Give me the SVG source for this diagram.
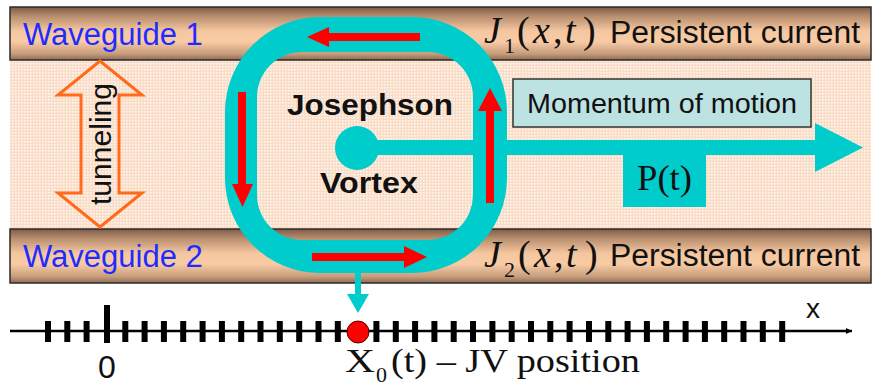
<svg xmlns="http://www.w3.org/2000/svg" width="882" height="386" viewBox="0 0 882 386">
  <defs>
    <linearGradient id="guideFill" x1="0" y1="0" x2="0" y2="1">
      <stop offset="0" stop-color="#7e5c48"/>
      <stop offset="0.18" stop-color="#b98f6f"/>
      <stop offset="0.45" stop-color="#f5c7a0"/>
      <stop offset="0.65" stop-color="#f8cba5"/>
      <stop offset="0.88" stop-color="#c79d7c"/>
      <stop offset="1" stop-color="#8f6c55"/>
    </linearGradient>
    <pattern id="barrierDots" width="3" height="3" patternUnits="userSpaceOnUse">
      <rect width="3" height="3" fill="#f9dcc5"/>
      <rect width="1.6" height="1.6" fill="#fff6ef"/>
    </pattern>
    <marker id="axisHead" viewBox="0 0 10 10" refX="10" refY="5" markerWidth="8" markerHeight="6" markerUnits="userSpaceOnUse" orient="auto">
      <path d="M0,0 L10,5 L0,10 z" fill="#000"/>
    </marker>
  </defs>
  <style>
    .guide { fill: url(#guideFill); stroke: #2b2b2b; stroke-width: 1.5; }
    .sans { font-family: "Liberation Sans", Arial, sans-serif; }
    .serif { font-family: "Liberation Serif", "Times New Roman", serif; }
    .blue { fill: #1f2cff; font-size: 31px; }
    .label { fill: #111; font-size: 31px; }
    .bold { font-weight: bold; fill: #111; font-size: 30px; }
    .math { fill: #111; font-size: 38px; }
    .cyan { fill: #00cccc; }
    .red { fill: #ff0000; }
    .tick { stroke: #000; stroke-width: 6; }
  </style>

  <rect width="882" height="386" fill="#ffffff"/>

  <!-- tunnel barrier between the guides -->
  <g id="barrier">
    <rect x="10" y="60" width="861" height="169" fill="url(#barrierDots)"/>
  </g>

  <!-- waveguides -->
  <g id="waveguide1">
    <rect class="guide" x="10" y="7" width="861" height="53"/>
    <text class="sans blue" x="23" y="45">Waveguide 1</text>
    <text class="serif math" y="43"><tspan x="484" font-style="italic">J</tspan><tspan x="504" y="53" font-size="22">1</tspan><tspan x="517" y="43">(</tspan><tspan x="533" font-style="italic">x</tspan><tspan x="553">,</tspan><tspan x="565" font-style="italic">t</tspan><tspan x="583">)</tspan></text>
    <text class="sans label" x="610" y="43" textLength="250" lengthAdjust="spacingAndGlyphs">Persistent current</text>
  </g>
  <g id="waveguide2">
    <rect class="guide" x="10" y="229" width="861" height="54"/>
    <text class="sans blue" x="23" y="267">Waveguide 2</text>
    <text class="serif math" y="267"><tspan x="484" font-style="italic">J</tspan><tspan x="504" y="277" font-size="22">2</tspan><tspan x="518" y="267">(</tspan><tspan x="534" font-style="italic">x</tspan><tspan x="554">,</tspan><tspan x="566" font-style="italic">t</tspan><tspan x="585">)</tspan></text>
    <text class="sans label" x="610" y="266" textLength="250" lengthAdjust="spacingAndGlyphs">Persistent current</text>
  </g>

  <!-- tunneling double arrow -->
  <g id="tunneling">
    <polygon points="100,61 142,95 119,95 119,193 142,193 100,227 58,193 81,193 81,95 58,95" fill="none" stroke="#ff6a1c" stroke-width="3" stroke-linejoin="miter"/>
    <text class="sans" transform="translate(111,144) rotate(-90)" text-anchor="middle" font-size="30" fill="#111" textLength="122" lengthAdjust="spacingAndGlyphs">tunneling</text>
  </g>

  <!-- momentum arrow with P(t) tab -->
  <g id="momentum">
    <rect class="cyan" x="357" y="140" width="460" height="15"/>
    <polygon class="cyan" points="815,123 863,147.5 815,172"/>
    <rect class="cyan" x="623" y="147" width="83" height="60"/>
    <text class="serif" x="637" y="190" font-size="35" fill="#111" textLength="55" lengthAdjust="spacingAndGlyphs">P(t)</text>
  </g>

  <g id="momentum-label">
    <rect x="513" y="79" width="298" height="48" fill="#bde2e2" stroke="#333" stroke-width="1.5"/>
    <text class="sans" x="527" y="113" font-size="27" fill="#111" textLength="270" lengthAdjust="spacingAndGlyphs">Momentum of motion</text>
  </g>

  <!-- circulating current loop round the vortex core -->
  <g id="vortex">
    <path class="cyan" fill-rule="evenodd" d="M320,17 H412 A95,95 0 0 1 507,112 V178 A95,95 0 0 1 412,273 H320 A95,95 0 0 1 225,178 V112 A95,95 0 0 1 320,17 Z M302,52 H428 A45,45 0 0 1 473,97 V195 A45,45 0 0 1 428,240 H302 A45,45 0 0 1 257,195 V97 A45,45 0 0 1 302,52 Z"/>
    <rect class="cyan" x="473" y="140" width="34" height="15"/>
    <circle class="cyan" cx="357" cy="148" r="22"/>
    <text class="sans bold" x="370" y="115" text-anchor="middle" textLength="166" lengthAdjust="spacingAndGlyphs">Josephson</text>
    <text class="sans bold" x="369" y="193" text-anchor="middle" textLength="98" lengthAdjust="spacingAndGlyphs">Vortex</text>
  </g>

  <!-- current direction arrows -->
  <g id="current-arrows">
    <path class="red" d="M420,33 V41 H329 V47 L307,37 L329,27 V33 Z"/>
    <path class="red" d="M238,92 H246 V184 H253 L242.5,207 L232,184 H238 Z"/>
    <path class="red" d="M312,253 V261 H404 V268 L427,257 L404,246 V253 Z"/>
    <path class="red" d="M486,203 H494 V111 H502 L490,88 L478,111 H486 Z"/>
  </g>

  <!-- position pointer from the vortex to the axis -->
  <g id="pointer">
    <rect class="cyan" x="355" y="272" width="6" height="24"/>
    <polygon class="cyan" points="347,294 369,294 358,313"/>
  </g>

  <!-- position axis -->
  <g id="axis">
    <line x1="10" y1="331" x2="852" y2="331" stroke="#000" stroke-width="2.5" marker-end="url(#axisHead)"/>
    <path class="tick" d="M48,321V342 M67.3,321V342 M86.6,321V342 M125.3,321V342 M144.6,321V342 M163.9,321V342 M183.2,321V342 M202.6,321V342 M221.9,321V342 M241.2,321V342 M260.5,321V342 M279.8,321V342 M299.2,321V342 M318.5,321V342 M337.8,321V342 M376.4,321V342 M395.8,321V342 M415.1,321V342 M434.4,321V342 M453.7,321V342 M473,321V342 M492.4,321V342 M511.7,321V342 M531,321V342 M550.3,321V342 M569.6,321V342 M589,321V342 M608.3,321V342 M627.6,321V342 M646.9,321V342 M666.2,321V342 M685.6,321V342 M704.9,321V342 M724.2,321V342 M743.5,321V342 M762.8,321V342 M782.2,321V342"/>
    <path class="tick" d="M107,305V343"/>
    <text class="sans" x="107" y="378" font-size="32" fill="#111" text-anchor="middle">0</text>
    <text class="sans" x="806" y="318" font-size="28" fill="#111">x</text>
  </g>

  <g id="position">
    <circle cx="358" cy="332" r="11" fill="#ff0000" stroke="#5a0000" stroke-width="1"/>
    <text class="serif" x="345" y="372" font-size="34" fill="#111" textLength="30" lengthAdjust="spacingAndGlyphs">X</text>
    <text class="serif" x="376" y="382" font-size="22" fill="#111">0</text>
    <text class="serif" x="391" y="372" font-size="34" fill="#111" textLength="249" lengthAdjust="spacingAndGlyphs">(t) – JV position</text>
  </g>
</svg>
